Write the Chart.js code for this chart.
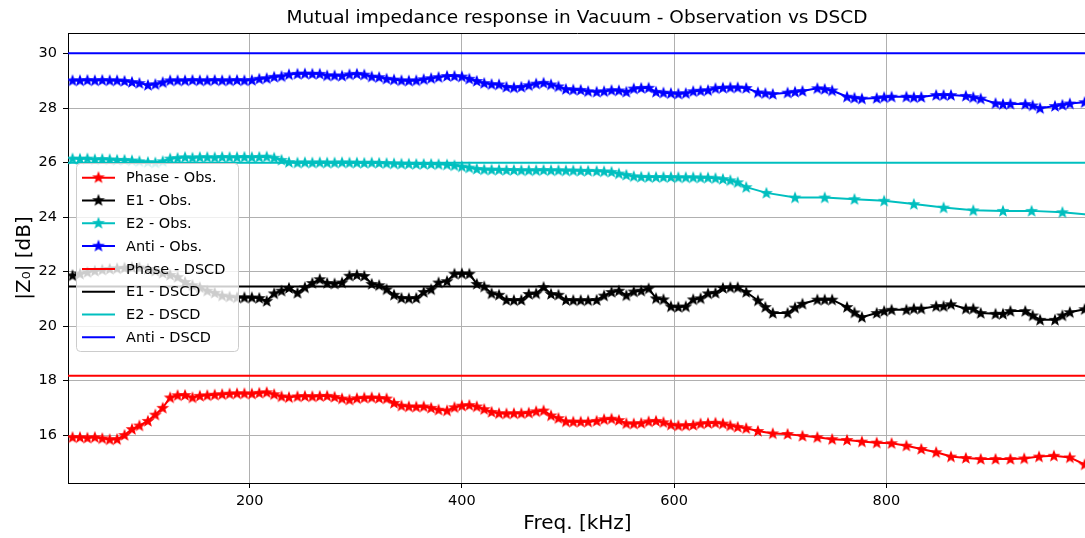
<!DOCTYPE html>
<html>
<head>
<meta charset="utf-8">
<title>Mutual impedance response in Vacuum</title>
<script src="https://cdn.jsdelivr.net/npm/chart.js@4.4.1/dist/chart.umd.min.js"></script>
<style>
  html, body { margin: 0; padding: 0; overflow: hidden; background: #fff; }
  #wrap { width: 1092px; height: 538px; }
</style>
</head>
<body>
<div id="wrap"><canvas id="impedanceChart" width="1092" height="538"></canvas></div>
<script>
// --- Data (frequency in kHz, |Z0| in dB) ---

// dense sweep shared by all four observed curves up to ~670 kHz
const freqDense = [
  33, 40, 47, 54, 61, 68, 75, 82, 89, 96,
  104, 111, 118, 125, 132, 139, 146, 153, 160, 167,
  174, 181, 188, 195, 202, 209, 216, 223, 230, 237,
  245, 252, 259, 266, 273, 280, 287, 294, 301, 308,
  315, 322, 329, 336, 343, 350, 357, 364, 371, 378,
  386, 393, 400, 407, 414, 421, 428, 435, 442, 449,
  456, 463, 470, 477, 484, 491, 498, 505, 512, 519,
  527, 534, 541, 548, 555, 562, 569, 576, 583, 590,
  597, 604, 611, 618, 625, 632, 639, 646, 653, 660,
  668
];

// sparser frequencies above ~670 kHz
const freqTail = [
  679, 686, 693, 707, 714, 721, 735, 742, 749, 763,
  770, 777, 791, 798, 805, 819, 826, 833, 847, 854,
  861, 875, 882, 889, 903, 910, 917, 931, 938, 945,
  959, 966, 973, 987
];
const freqPhaseTail = [
  679, 693, 707, 721, 735, 749, 763, 777, 791, 805,
  819, 833, 847, 861, 875, 889, 903, 917, 930, 944,
  958, 973, 987
];
const freqE2Tail = [687, 714, 742, 770, 798, 826, 854, 882, 910, 937, 966, 994];

const phaseObsDense = [
  15.92, 15.92, 15.90, 15.92, 15.88, 15.84, 15.85, 16.00, 16.22, 16.35,
  16.52, 16.75, 17.00, 17.38, 17.46, 17.47, 17.38, 17.44, 17.46, 17.48,
  17.50, 17.52, 17.53, 17.53, 17.52, 17.55, 17.57, 17.50, 17.42, 17.39,
  17.42, 17.43, 17.42, 17.43, 17.44, 17.40, 17.34, 17.30, 17.35, 17.37,
  17.38, 17.36, 17.34, 17.18, 17.08, 17.05, 17.04, 17.05, 17.00, 16.93,
  16.90, 17.02, 17.08, 17.10, 17.05, 16.95, 16.85, 16.80, 16.79, 16.80,
  16.80, 16.82, 16.87, 16.90, 16.72, 16.62, 16.50, 16.49, 16.49, 16.49,
  16.52, 16.58, 16.60, 16.55, 16.43, 16.42, 16.44, 16.50, 16.52, 16.47,
  16.38, 16.35, 16.36, 16.37, 16.42, 16.44, 16.45, 16.42, 16.35, 16.30,
  16.25
];
const phaseObsTail = [
  16.15, 16.06, 16.04, 15.97, 15.92, 15.85, 15.82, 15.76, 15.72, 15.70,
  15.61, 15.49, 15.37, 15.21, 15.16, 15.12, 15.12, 15.12, 15.14, 15.21,
  15.24, 15.18, 14.92
];

const e1ObsDense = [
  21.86, 21.92, 21.98, 22.03, 22.07, 22.10, 22.12, 22.14, 22.16, 22.15,
  22.10, 22.03, 21.95, 21.88, 21.80, 21.62, 21.50, 21.42, 21.30, 21.22,
  21.12, 21.08, 21.05, 21.05, 21.05, 21.03, 20.92, 21.20, 21.30, 21.40,
  21.22, 21.42, 21.58, 21.72, 21.58, 21.56, 21.60, 21.85, 21.88, 21.84,
  21.55, 21.50, 21.35, 21.15, 21.03, 21.02, 21.03, 21.25, 21.35, 21.60,
  21.65, 21.92, 21.93, 21.92, 21.55, 21.45, 21.20, 21.15, 20.96, 20.95,
  20.96, 21.18, 21.20, 21.43, 21.18, 21.15, 20.96, 20.95, 20.95, 20.95,
  20.96, 21.12, 21.25, 21.30, 21.13, 21.27, 21.30, 21.38, 21.02, 20.98,
  20.72, 20.70, 20.72, 20.98, 21.02, 21.20, 21.22, 21.40, 21.42, 21.42,
  21.25
];
const e1ObsTail = [
  20.94, 20.70, 20.48, 20.48, 20.68, 20.82, 20.97, 20.97, 20.97, 20.70,
  20.50, 20.33, 20.48, 20.55, 20.60, 20.60, 20.64, 20.64, 20.73, 20.73,
  20.80, 20.64, 20.64, 20.48, 20.45, 20.45, 20.55, 20.55, 20.39, 20.23,
  20.23, 20.39, 20.51, 20.62
];

const e2ObsDense = [
  26.15, 26.14, 26.15, 26.12, 26.13, 26.12, 26.10, 26.10, 26.08, 26.05,
  26.02, 26.00, 26.05, 26.15, 26.17, 26.20, 26.18, 26.20, 26.20, 26.19,
  26.21, 26.20, 26.20, 26.21, 26.20, 26.21, 26.22, 26.18, 26.10, 26.02,
  26.00, 26.01, 26.00, 26.01, 26.00, 26.00, 26.01, 26.00, 26.00, 25.99,
  26.00, 25.99, 25.98, 25.97, 25.96, 25.96, 25.95, 25.95, 25.95, 25.94,
  25.93, 25.90, 25.86, 25.82, 25.77, 25.75, 25.74, 25.74, 25.73, 25.73,
  25.72, 25.72, 25.72, 25.73, 25.72, 25.72, 25.71, 25.71, 25.70, 25.70,
  25.69, 25.68, 25.66, 25.60, 25.55, 25.50, 25.48, 25.47, 25.47, 25.47,
  25.47, 25.46, 25.46, 25.46, 25.45, 25.45, 25.43, 25.40, 25.35, 25.28,
  25.10
];
const e2ObsTail = [24.89, 24.72, 24.72, 24.66, 24.60, 24.48, 24.35, 24.25, 24.23, 24.23, 24.18, 24.08];

const antiObsDense = [
  29.02, 29.02, 29.03, 29.02, 29.03, 29.02, 29.02, 29.00, 28.96, 28.92,
  28.85, 28.88, 28.95, 29.02, 29.02, 29.02, 29.03, 29.02, 29.02, 29.03,
  29.02, 29.02, 29.03, 29.02, 29.03, 29.08, 29.10, 29.15, 29.17, 29.24,
  29.26, 29.27, 29.26, 29.26, 29.20, 29.20, 29.19, 29.24, 29.26, 29.23,
  29.16, 29.14, 29.08, 29.05, 29.02, 29.01, 29.02, 29.06, 29.10, 29.14,
  29.18, 29.18, 29.16, 29.08, 29.00, 28.92, 28.88, 28.87, 28.78, 28.76,
  28.78, 28.84, 28.90, 28.93, 28.87, 28.80, 28.70, 28.68, 28.67, 28.62,
  28.60, 28.62, 28.66, 28.65, 28.60, 28.72, 28.74, 28.75, 28.60, 28.57,
  28.55, 28.53, 28.55, 28.62, 28.64, 28.66, 28.73, 28.75, 28.76, 28.76,
  28.74
];
const antiObsTail = [
  28.58, 28.55, 28.52, 28.57, 28.60, 28.63, 28.73, 28.70, 28.65, 28.42,
  28.38, 28.35, 28.37, 28.40, 28.42, 28.42, 28.40, 28.41, 28.48, 28.48,
  28.48, 28.45, 28.40, 28.35, 28.18, 28.15, 28.16, 28.15, 28.10, 28.00,
  28.08, 28.12, 28.17, 28.22
];

// DSCD predictions are flat across the band
const dscdFreq = [0, 1000];
const dscdLevels = [18.18, 21.45, 26.0, 30.02]; // Phase, E1, E2, Anti

const seriesNames = ["Phase", "E1", "E2", "Anti"];
const seriesColors = ["#ff0000", "#000000", "#00bfbf", "#0000ff"];

const xTickValues = [200, 400, 600, 800];
const yTickValues = [16, 18, 20, 22, 24, 26, 28, 30];

const FONT = "DejaVu Sans";
Chart.defaults.font.family = FONT;
Chart.defaults.color = "#000";

// --- helpers ---
function toPoints(freqs, values) {
  return freqs.map(function (f, i) { return { x: f, y: values[i] }; });
}

// matplotlib-like filled five point star marker
function starMarker(color) {
  const c = document.createElement("canvas");
  c.width = 14;
  c.height = 14;
  const g = c.getContext("2d");
  g.beginPath();
  for (let k = 0; k < 10; k++) {
    const r = k % 2 === 0 ? 5.0 : 2.1;
    const a = -Math.PI / 2 + (k * Math.PI) / 5;
    const px = 7 + r * Math.cos(a);
    const py = 7.4 + r * Math.sin(a);
    if (k === 0) g.moveTo(px, py); else g.lineTo(px, py);
  }
  g.closePath();
  g.fillStyle = color;
  g.strokeStyle = color;
  g.lineWidth = 1.2;
  g.fill();
  g.stroke();
  return c;
}

const obsPoints = [
  toPoints(freqDense, phaseObsDense).concat(toPoints(freqPhaseTail, phaseObsTail)),
  toPoints(freqDense, e1ObsDense).concat(toPoints(freqTail, e1ObsTail)),
  toPoints(freqDense, e2ObsDense).concat(toPoints(freqE2Tail, e2ObsTail)),
  toPoints(freqDense, antiObsDense).concat(toPoints(freqTail, antiObsTail)),
];

const datasets = [];
seriesNames.forEach(function (name, i) {
  datasets.push({
    label: name + " - Obs.",
    data: obsPoints[i],
    borderColor: seriesColors[i],
    backgroundColor: seriesColors[i],
    borderWidth: 2,
    pointStyle: starMarker(seriesColors[i]),
    pointRadius: 3,
    pointHoverRadius: 3,
    tension: 0,
    fill: false,
    order: 8 - i,
  });
});
seriesNames.forEach(function (name, i) {
  datasets.push({
    label: name + " - DSCD",
    data: toPoints(dscdFreq, [dscdLevels[i], dscdLevels[i]]),
    borderColor: seriesColors[i],
    backgroundColor: seriesColors[i],
    borderWidth: 2,
    pointRadius: 0,
    pointHoverRadius: 0,
    fill: false,
    order: 4 - i,
  });
});

// title, top spine and the inset legend (matplotlib style)
const decorations = {
  id: "decorations",
  afterDraw: function (chart) {
    const ctx = chart.ctx;
    const area = chart.chartArea;
    ctx.save();

    ctx.strokeStyle = "#000";
    ctx.lineWidth = 1;
    ctx.beginPath();
    ctx.moveTo(area.left, area.top + 0.5);
    ctx.lineTo(area.right, area.top + 0.5);
    ctx.stroke();

    ctx.fillStyle = "#000";
    ctx.font = '18.5px "' + FONT + '"';
    ctx.textAlign = "center";
    ctx.textBaseline = "middle";
    ctx.fillText("Mutual impedance response in Vacuum - Observation vs DSCD", 577, 18);

    // legend box
    ctx.beginPath();
    ctx.roundRect(76.5, 163.5, 162, 188, 4);
    ctx.fillStyle = "rgba(255,255,255,0.8)";
    ctx.fill();
    ctx.strokeStyle = "#cccccc";
    ctx.lineWidth = 1;
    ctx.stroke();

    ctx.textAlign = "left";
    ctx.font = '14.5px "' + FONT + '"';
    chart.data.datasets.forEach(function (ds, i) {
      const cy = 177.7 + i * 22.8;
      ctx.strokeStyle = ds.borderColor;
      ctx.lineWidth = 2;
      ctx.beginPath();
      ctx.moveTo(82, cy);
      ctx.lineTo(115, cy);
      ctx.stroke();
      if (ds.pointStyle instanceof HTMLCanvasElement) {
        ctx.drawImage(ds.pointStyle, 98.5 - 7, cy - 7.4);
      }
      ctx.fillStyle = "#000";
      ctx.fillText(ds.label, 126, cy + 1);
    });
    ctx.restore();
  },
};

new Chart(document.getElementById("impedanceChart"), {
  type: "line",
  data: { datasets: datasets },
  plugins: [decorations],
  options: {
    responsive: false,
    animation: false,
    events: [],
    layout: { padding: { top: 33, right: 2, left: 0, bottom: 0 } },
    plugins: {
      legend: { display: false },
      title: { display: false },
      tooltip: { enabled: false },
    },
    scales: {
      x: {
        type: "linear",
        min: 28.7,
        max: 989.2,
        afterBuildTicks: function (axis) {
          axis.ticks = xTickValues.map(function (v) { return { value: v }; });
        },
        afterFit: function (axis) { axis.height = 55; },
        grid: { color: "#b0b0b0", lineWidth: 1, tickColor: "#000", tickLength: 5, tickWidth: 1 },
        border: { color: "#000", width: 1 },
        ticks: { color: "#000", font: { size: 14.5 }, padding: 5, maxRotation: 0 },
        title: {
          display: true,
          text: "Freq. [kHz]",
          color: "#000",
          font: { size: 20 },
          padding: { top: 0, bottom: 2 },
        },
      },
      y: {
        type: "linear",
        min: 14.24,
        max: 30.76,
        afterBuildTicks: function (axis) {
          axis.ticks = yTickValues.map(function (v) { return { value: v }; });
        },
        afterFit: function (axis) { axis.width = 68; },
        grid: { color: "#b0b0b0", lineWidth: 1, tickColor: "#000", tickLength: 5, tickWidth: 1 },
        border: { color: "#000", width: 1 },
        ticks: { color: "#000", font: { size: 14.5 }, padding: 6 },
        title: {
          display: true,
          text: "|Z\u2080| [dB]",
          color: "#000",
          font: { size: 20 },
          padding: { top: 13, bottom: 0 },
        },
      },
    },
  },
});
</script>
</body>
</html>
